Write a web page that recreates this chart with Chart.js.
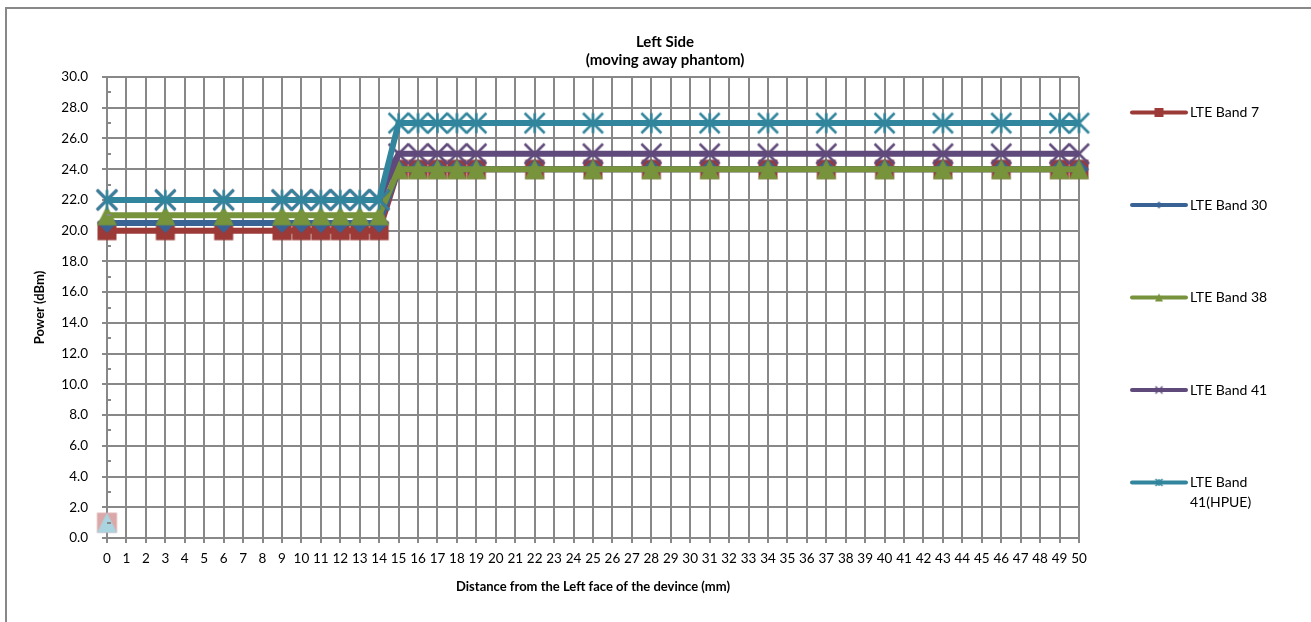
<!DOCTYPE html>
<html>
<head>
<meta charset="utf-8">
<title>Left Side (moving away phantom)</title>
<script src="https://cdn.jsdelivr.net/npm/chart.js@4.4.1/dist/chart.umd.min.js"></script>
<style>
  html, body { margin: 0; padding: 0; background: #fff; }
  #wrap { width: 1311px; height: 622px; }
</style>
</head>
<body>
<div id="wrap"><canvas id="myChart" width="1311" height="622"></canvas></div>
<script>
/* dados */
const distances = [0, 3, 6, 9, 10, 11, 12, 13, 14, 15, 16, 17, 18, 19, 22, 25, 28, 31, 34, 37, 40, 43, 46, 49, 50];

const band7     = [20, 20, 20, 20, 20, 20, 20, 20, 20, 24, 24, 24, 24, 24, 24, 24, 24, 24, 24, 24, 24, 24, 24, 24, 24];
const band30    = [20.5, 20.5, 20.5, 20.5, 20.5, 20.5, 20.5, 20.5, 20.5, 24, 24, 24, 24, 24, 24, 24, 24, 24, 24, 24, 24, 24, 24, 24, 24];
const band38    = [21, 21, 21, 21, 21, 21, 21, 21, 21, 24, 24, 24, 24, 24, 24, 24, 24, 24, 24, 24, 24, 24, 24, 24, 24];
const band41    = [22, 22, 22, 22, 22, 22, 22, 22, 22, 25, 25, 25, 25, 25, 25, 25, 25, 25, 25, 25, 25, 25, 25, 25, 25];
const band41hp  = [22, 22, 22, 22, 22, 22, 22, 22, 22, 27, 27, 27, 27, 27, 27, 27, 27, 27, 27, 27, 27, 27, 27, 27, 27];

/* os dois marcadores claros perto da origem */
const strayX = [0];
const strayA = [1];
const strayB = [1];

const seriesNames = ["LTE Band 7", "LTE Band 30", "LTE Band 38", "LTE Band 41", "LTE Band 41(HPUE)"];
const titleLines = ["Left Side", "(moving away phantom)"];

const GRID = "#888888";
const FONT = "Lato, 'Open Sans', sans-serif";

function toPoints(xs, ys) {
  return xs.map((x, i) => ({ x: x, y: ys[i] }));
}

/* desenha um marcador estilo Excel num canvas pequeno */
function makeMarker(shape, color, size, lw) {
  const s = Math.ceil(size + lw + 2);
  const c = document.createElement("canvas");
  c.width = s; c.height = s;
  const g = c.getContext("2d");
  const m = s / 2, h = size / 2;
  g.fillStyle = color;
  g.strokeStyle = color;
  g.lineWidth = lw;
  g.beginPath();
  if (shape === "square") {
    g.rect(m - h, m - h, size, size);
    g.fill();
  } else if (shape === "diamond") {
    g.moveTo(m, m - h); g.lineTo(m + h, m); g.lineTo(m, m + h); g.lineTo(m - h, m);
    g.closePath(); g.fill();
  } else if (shape === "triangle") {
    g.moveTo(m, m - h); g.lineTo(m + h, m + h); g.lineTo(m - h, m + h);
    g.closePath(); g.fill();
  } else if (shape === "x") {
    g.moveTo(m - h, m - h); g.lineTo(m + h, m + h);
    g.moveTo(m + h, m - h); g.lineTo(m - h, m + h);
    g.stroke();
  } else if (shape === "star") {
    g.moveTo(m - h, m - h); g.lineTo(m + h, m + h);
    g.moveTo(m + h, m - h); g.lineTo(m - h, m + h);
    g.moveTo(m, m - h); g.lineTo(m, m + h);
    g.stroke();
  }
  return c;
}

const colors = ["#9b3a37", "#3a6395", "#77933c", "#604a7b", "#31859c"];
const shapes = ["square", "diamond", "triangle", "x", "star"];
const plotSizes = [19, 20, 20, 20, 20];
const legendSizes = [9, 7, 8, 7, 7];

const seriesValues = [band7, band30, band38, band41, band41hp];

const datasets = seriesValues.map((vals, i) => ({
  label: seriesNames[i],
  data: toPoints(distances, vals),
  borderColor: colors[i],
  backgroundColor: colors[i],
  borderWidth: 6,
  pointStyle: makeMarker(shapes[i], colors[i], plotSizes[i], 2.5),
  legendMarker: makeMarker(shapes[i], colors[i], legendSizes[i], 1.5),
  tension: 0,
  clip: false,
  order: 5 - i
}));

datasets.push({
  label: "",
  data: toPoints(strayX, strayA),
  showLine: false,
  pointStyle: makeMarker("square", "#dba8a9", 20, 1),
  clip: false,
  order: 0.2
});
datasets.push({
  label: "",
  data: toPoints(strayX, strayB),
  showLine: false,
  pointStyle: makeMarker("triangle", "#aad4df", 20, 1),
  clip: false,
  order: 0.1
});

/* moldura, titulo, legenda e tracos menores do eixo Y */
const excelDecor = {
  id: "excelDecor",
  beforeDraw(chart) {
    const ctx = chart.ctx;
    ctx.save();
    ctx.fillStyle = "#fff";
    ctx.fillRect(0, 0, chart.width, chart.height);
    ctx.strokeStyle = GRID;
    ctx.lineWidth = 2;
    ctx.strokeRect(6, 8, chart.width + 10, chart.height + 10);
    ctx.restore();
  },
  afterDraw(chart) {
    const ctx = chart.ctx;
    const y = chart.scales.y;
    ctx.save();

    // tracos menores
    ctx.strokeStyle = GRID;
    ctx.lineWidth = 2;
    for (let v = 1; v < 30; v += 2) {
      const py = Math.round(y.getPixelForValue(v));
      ctx.beginPath();
      ctx.moveTo(chart.chartArea.left, py);
      ctx.lineTo(chart.chartArea.left + 4, py);
      ctx.stroke();
    }

    // titulo
    ctx.fillStyle = "#000";
    ctx.textAlign = "center";
    ctx.textBaseline = "middle";
    ctx.font = "bold 15px " + FONT;
    ctx.fillText(titleLines[0], 665, 42);
    ctx.fillText(titleLines[1], 665, 60);

    // legenda
    const x0 = 1132, x1 = 1186, tx = 1190;
    const y0 = 112.5, step = 92.5;
    ctx.font = "14px " + FONT;
    ctx.textAlign = "left";
    let row = 0;
    chart.data.datasets.forEach((ds) => {
      if (!ds.label) return;
      const ly = y0 + row * step;
      ctx.strokeStyle = ds.borderColor;
      ctx.lineWidth = 4;
      ctx.lineCap = "round";
      ctx.beginPath();
      ctx.moveTo(x0, ly);
      ctx.lineTo(x1, ly);
      ctx.stroke();
      const mk = ds.legendMarker;
      ctx.drawImage(mk, (x0 + x1) / 2 - mk.width / 2, ly - mk.height / 2);

      // quebra de linha simples
      const words = ds.label.split(" ");
      const lines = [];
      let cur = "";
      words.forEach((w) => {
        const test = cur ? cur + " " + w : w;
        if (ctx.measureText(test).width > 105 && cur) {
          lines.push(cur);
          cur = w;
        } else {
          cur = test;
        }
      });
      lines.push(cur);
      ctx.fillStyle = "#000";
      lines.forEach((t, k) => ctx.fillText(t, tx, ly + k * 20));
      row++;
    });
    ctx.restore();
  }
};

const ctx1 = document.getElementById("myChart").getContext("2d");

const config1 = {
  type: "line",
  data: { datasets: datasets },
  options: {
    responsive: false,
    animation: false,
    devicePixelRatio: 1,
    layout: { padding: { left: 0, top: 77, right: 232, bottom: 0 } },
    plugins: {
      legend: { display: false },
      title: { display: false },
      tooltip: { enabled: false }
    },
    scales: {
      x: {
        type: "linear",
        min: 0,
        max: 50,
        afterFit: (scale) => { scale.height = 84; },
        ticks: {
          stepSize: 1,
          autoSkip: false,
          maxRotation: 0,
          padding: 8,
          color: "#000",
          font: { family: FONT, size: 13.5 }
        },
        grid: { color: GRID, lineWidth: 2, tickLength: 5, tickColor: GRID },
        border: { color: GRID, width: 2 },
        title: {
          display: true,
          text: "Distance from the Left face of the devince (mm)",
          color: "#000",
          font: { family: FONT, size: 13, weight: "bold" },
          padding: { top: 0, bottom: 27 }
        }
      },
      y: {
        min: 0,
        max: 30,
        afterFit: (scale) => { scale.width = 107; },
        ticks: {
          stepSize: 2,
          padding: 14,
          color: "#000",
          font: { family: FONT, size: 13.5 },
          callback: (v) => v.toFixed(1)
        },
        grid: { color: GRID, lineWidth: 2, tickLength: 5, tickColor: GRID },
        border: { color: GRID, width: 2 },
        title: {
          display: true,
          text: "Power (dBm)",
          color: "#000",
          font: { family: FONT, size: 13, weight: "bold" },
          padding: { top: 32, bottom: 0 }
        }
      }
    }
  },
  plugins: [excelDecor]
};

const myChart1 = new Chart(ctx1, config1);
</script>
</body>
</html>
